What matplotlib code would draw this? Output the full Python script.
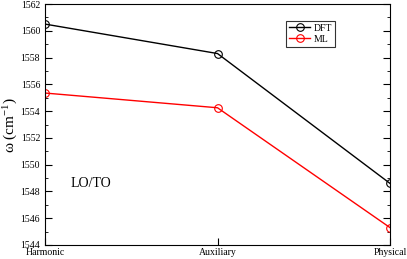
import numpy as np
from matplotlib import pyplot as plt
from matplotlib.ticker import MultipleLocator

plt.rcParams['font.family'] = ['Liberation Serif', 'DejaVu Serif']
plt.rcParams['mathtext.fontset'] = 'stix'

# Data
methods = ['Harmonic', 'Auxiliary', 'Physical']
dft = [1560.5, 1558.3, 1548.6]
ml = [1555.35, 1554.25, 1545.3]

x = np.arange(len(methods))

fig = plt.figure(figsize=(4.07, 2.59), dpi=100)
ax = fig.add_axes([45/407, 14/259, 345/407, 241/259])

ax.plot(x, dft, color='black', lw=1.0, marker='o', ms=5.5, mfc='none', mew=0.8, label='DFT')
ax.plot(x, ml, color='red', lw=1.0, marker='o', ms=5.5, mfc='none', mew=0.8, label='ML')

ax.set_xlim(0, 2)
ax.set_ylim(1544, 1562)
ax.set_xticks(x)
ax.set_xticklabels(methods, fontsize=7)
ax.yaxis.set_major_locator(MultipleLocator(2))
ax.yaxis.set_minor_locator(MultipleLocator(1))
ax.tick_params(axis='y', which='both', direction='in', right=True, labelsize=7)
ax.tick_params(axis='y', which='major', length=5)
ax.tick_params(axis='y', which='minor', length=2.5)
ax.tick_params(axis='x', direction='in', length=5, pad=2)
ax.set_ylabel('ω (cm$^{\\mathregular{-1}}$)', fontsize=11, labelpad=1)

ax.text(0.15, 1548.3, 'LO/TO', fontsize=10)

leg = ax.legend(loc='upper left', bbox_to_anchor=(0.685, 0.95), fontsize=7,
                frameon=True, fancybox=False, edgecolor='black',
                handlelength=2.2, borderpad=0.3, labelspacing=0.2,
                handletextpad=0.3)
leg.get_frame().set_linewidth(0.8)

plt.savefig('out.png')
